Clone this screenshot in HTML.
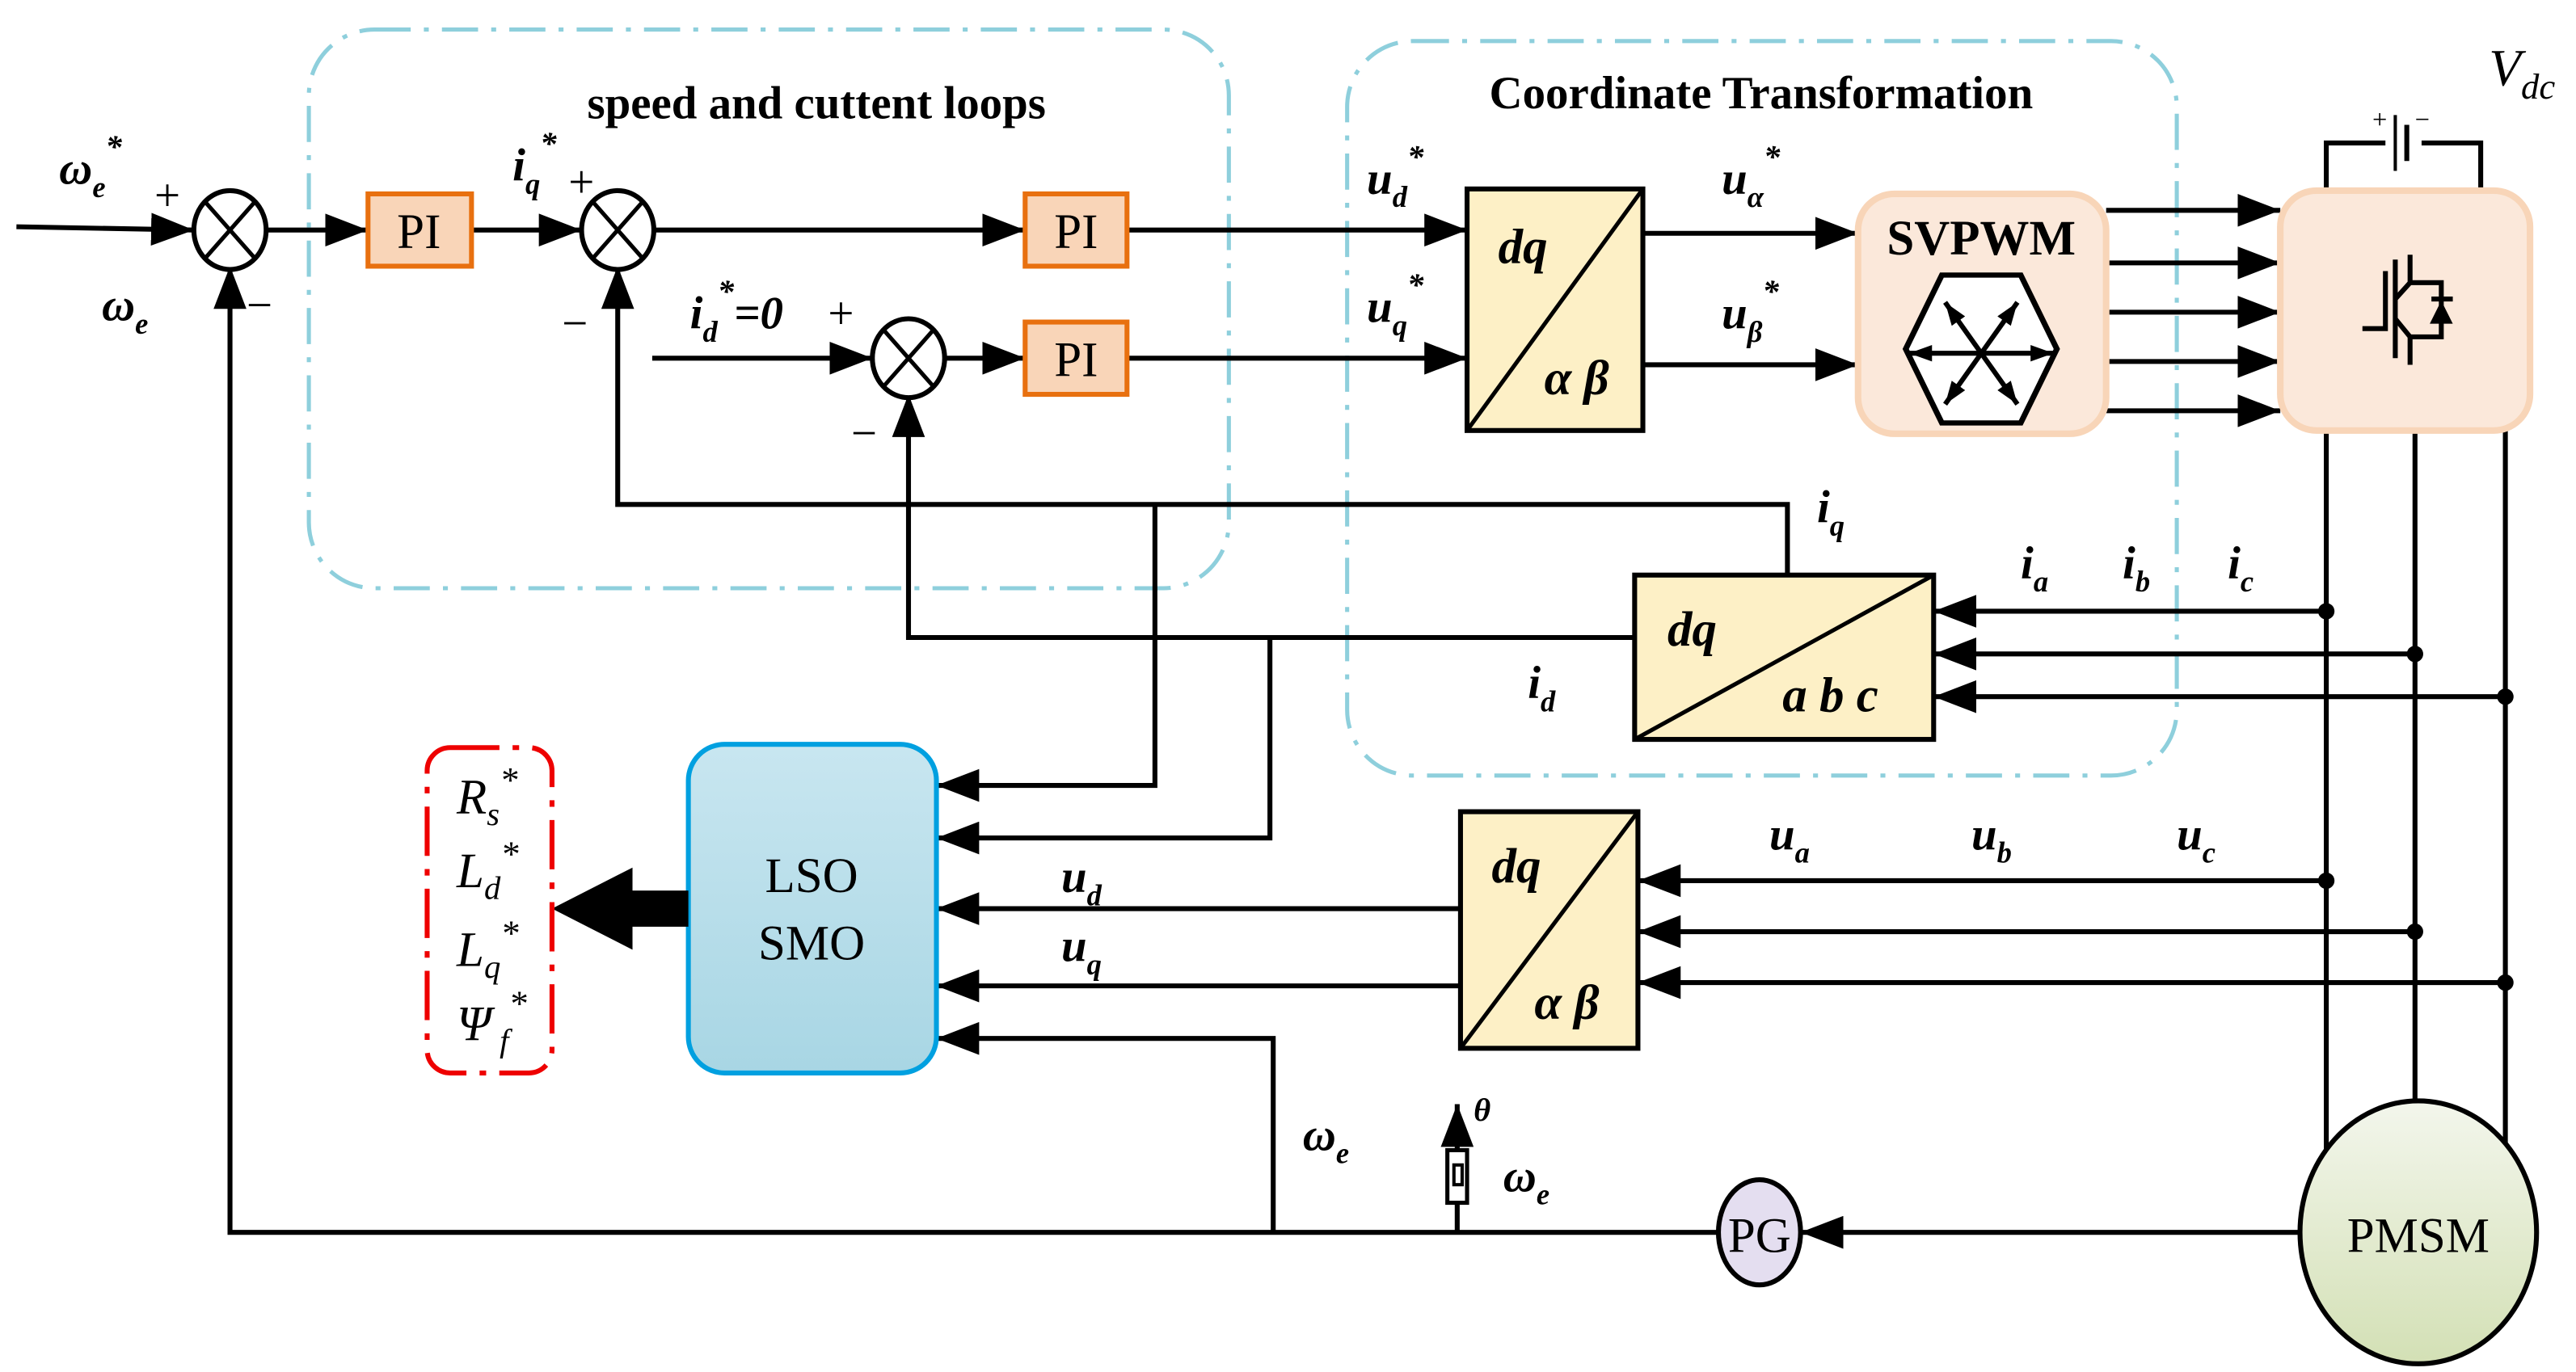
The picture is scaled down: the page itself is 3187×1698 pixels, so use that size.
<!DOCTYPE html>
<html><head><meta charset="utf-8"><style>html,body{margin:0;padding:0;background:#fff}svg{display:block}</style></head>
<body>
<svg width="3187" height="1698" viewBox="0 0 1568 835" preserveAspectRatio="none" xmlns="http://www.w3.org/2000/svg" font-family="Liberation Serif, serif">
<defs>
<marker id="a" viewBox="0 0 10 10" markerWidth="14" markerHeight="10" refX="10" refY="5" orient="auto" markerUnits="userSpaceOnUse" preserveAspectRatio="none"><path d="M0,0 L10,5 L0,10z"/></marker>
<marker id="b" viewBox="0 0 10 10" markerWidth="26" markerHeight="20" refX="10" refY="5" orient="auto" markerUnits="userSpaceOnUse" preserveAspectRatio="none"><path d="M0,0 L10,5 L0,10z"/></marker>
<linearGradient id="lg" x1="0" y1="0" x2="0" y2="1"><stop offset="0" stop-color="#c8e6f0"/><stop offset="1" stop-color="#a8d6e4"/></linearGradient>
<linearGradient id="gg" x1="0" y1="0" x2="0" y2="1"><stop offset="0" stop-color="#f3f6ec"/><stop offset="1" stop-color="#d3e0b5"/></linearGradient>
</defs>
<g fill="none" stroke="#8ecfdc" stroke-width="2.5" stroke-dasharray="22,8,3,8">
<rect x="188" y="18" width="560" height="340" rx="40"/>
<rect x="820" y="25" width="505" height="447" rx="40"/>
</g>
<g stroke="#000" stroke-width="3" fill="none">
<line x1="10" y1="138" x2="118" y2="140" marker-end="url(#b)"/>
<line x1="162" y1="140" x2="224" y2="140" marker-end="url(#b)"/>
<line x1="287" y1="140" x2="354" y2="140" marker-end="url(#b)"/>
<line x1="398" y1="140" x2="624" y2="140" marker-end="url(#b)"/>
<line x1="686" y1="140" x2="893" y2="140" marker-end="url(#b)"/>
<line x1="397" y1="218" x2="531" y2="218" marker-end="url(#b)"/>
<line x1="575" y1="218" x2="624" y2="218" marker-end="url(#b)"/>
<line x1="686" y1="218" x2="893" y2="218" marker-end="url(#b)"/>
<line x1="1000" y1="142" x2="1131" y2="142" marker-end="url(#b)"/>
<line x1="1000" y1="222" x2="1131" y2="222" marker-end="url(#b)"/>
<line x1="1282" y1="128" x2="1388" y2="128" marker-end="url(#b)"/>
<line x1="1282" y1="160" x2="1388" y2="160" marker-end="url(#b)"/>
<line x1="1282" y1="190" x2="1388" y2="190" marker-end="url(#b)"/>
<line x1="1282" y1="220" x2="1388" y2="220" marker-end="url(#b)"/>
<line x1="1282" y1="250" x2="1388" y2="250" marker-end="url(#b)"/>
<polyline points="1416,116 1416,87 1510,87 1510,116"/>
<line x1="1416" y1="262" x2="1416" y2="700"/>
<line x1="1470" y1="262" x2="1470" y2="670"/>
<line x1="1525" y1="262" x2="1525" y2="700"/>
<polyline points="1046,750 140,750 140,162" marker-end="url(#b)"/>
<line x1="1410" y1="750" x2="1096" y2="750" marker-end="url(#b)"/>
<polyline points="1088,350 1088,307 376,307 376,162" marker-end="url(#b)"/>
<polyline points="995,388 553,388 553,240" marker-end="url(#b)"/>
<polyline points="703,307 703,478 570,478" marker-end="url(#b)"/>
<polyline points="773,388 773,510 570,510" marker-end="url(#b)"/>
<line x1="889" y1="553" x2="570" y2="553" marker-end="url(#b)"/>
<line x1="889" y1="600" x2="570" y2="600" marker-end="url(#b)"/>
<polyline points="775,750 775,632 570,632" marker-end="url(#b)"/>
<line x1="1416" y1="372" x2="1177" y2="372" marker-end="url(#b)"/>
<line x1="1470" y1="398" x2="1177" y2="398" marker-end="url(#b)"/>
<line x1="1525" y1="424" x2="1177" y2="424" marker-end="url(#b)"/>
<line x1="1416" y1="536" x2="997" y2="536" marker-end="url(#b)"/>
<line x1="1470" y1="567" x2="997" y2="567" marker-end="url(#b)"/>
<line x1="1525" y1="598" x2="997" y2="598" marker-end="url(#b)"/>
<line x1="887" y1="750" x2="887" y2="672" marker-end="url(#b)"/>
</g>
<g fill="#000">
<circle cx="1416" cy="372" r="5"/><circle cx="1470" cy="398" r="5"/><circle cx="1525" cy="424" r="5"/>
<circle cx="1416" cy="536" r="5"/><circle cx="1470" cy="567" r="5"/><circle cx="1525" cy="598" r="5"/>
</g>
<rect x="1452" y="72" width="22" height="30" fill="#fff"/>
<line x1="1458" y1="70" x2="1458" y2="104" stroke="#000" stroke-width="2"/>
<line x1="1465" y1="76" x2="1465" y2="98" stroke="#000" stroke-width="3"/>
<text x="1444" y="78" font-size="16">+</text><text x="1470" y="78" font-size="16">−</text>
<rect x="881" y="700" width="12" height="32" fill="#fff" stroke="#000" stroke-width="2.5"/>
<rect x="885" y="709" width="5" height="12" fill="#fff" stroke="#000" stroke-width="2"/>
<g stroke="#000" stroke-width="3" fill="#fff">
<ellipse cx="140" cy="140" rx="22" ry="24"/>
<ellipse cx="376" cy="140" rx="22" ry="24"/>
<ellipse cx="553" cy="218" rx="22" ry="24"/>
</g>
<g stroke="#000" stroke-width="2.5">
<path d="M125,123 L155,157 M155,123 L125,157"/>
<path d="M361,123 L391,157 M391,123 L361,157"/>
<path d="M538,201 L568,235 M568,201 L538,235"/>
</g>
<g fill="#f9d5b8" stroke="#e8700f" stroke-width="3">
<rect x="224" y="118" width="63" height="44"/>
<rect x="624" y="118" width="62" height="44"/>
<rect x="624" y="196" width="62" height="44"/>
</g>
<g font-size="30" text-anchor="middle">
<text x="255" y="151">PI</text><text x="655" y="151">PI</text><text x="655" y="229">PI</text>
</g>
<g fill="#fdf0c6" stroke="#000" stroke-width="3">
<rect x="893" y="115" width="107" height="147"/>
<rect x="995" y="350" width="182" height="100"/>
<rect x="889" y="494" width="108" height="144"/>
</g>
<g stroke="#000" stroke-width="2.5">
<line x1="893" y1="262" x2="1000" y2="115"/>
<line x1="995" y1="450" x2="1177" y2="350"/>
<line x1="889" y1="638" x2="997" y2="494"/>
</g>
<g font-style="italic" font-weight="bold" font-size="30">
<text x="912" y="160">dq</text><text x="940" y="240">α β</text>
<text x="1015" y="393">dq</text><text x="1085" y="433">a b c</text>
<text x="908" y="537">dq</text><text x="934" y="620">α β</text>
</g>
<rect x="1131" y="118" width="151" height="146" rx="22" fill="#fbe8da" stroke="#f8d5b8" stroke-width="4"/>
<text x="1206" y="155" font-size="30" font-weight="bold" text-anchor="middle">SVPWM</text>
<g stroke="#000" stroke-width="3.5" fill="#fff">
<polygon points="1182,172 1230,172 1252,222 1230,272 1182,272 1160,222" transform="translate(0,-9) scale(1,0.9) translate(0,24)"/>
</g>
<g stroke="#000" stroke-width="3" marker-end="url(#a)">
<line x1="1206" y1="215" x2="1184" y2="184"/><line x1="1206" y1="215" x2="1228" y2="184"/>
<line x1="1206" y1="215" x2="1162" y2="215"/><line x1="1206" y1="215" x2="1250" y2="215"/>
<line x1="1206" y1="215" x2="1184" y2="246"/><line x1="1206" y1="215" x2="1228" y2="246"/>
</g>
<rect x="1388" y="116" width="152" height="146" rx="22" fill="#fbe8da" stroke="#f8d5b8" stroke-width="4"/>
<g stroke="#000" stroke-width="3" fill="none">
<polyline points="1438,200 1452,200 1452,165"/>
<line x1="1458" y1="158" x2="1458" y2="218"/>
<polyline points="1458,182 1467,172 1467,155"/>
<polyline points="1467,172 1486,172 1486,205 1467,205 1467,222"/>
<line x1="1458" y1="194" x2="1467" y2="205"/>
<line x1="1480" y1="182" x2="1493" y2="182"/>
</g>
<polygon points="1479,197 1493,197 1486,183" fill="#000"/>
<rect x="419" y="453" width="151" height="200" rx="22" fill="url(#lg)" stroke="#00a0e0" stroke-width="3"/>
<text x="494" y="543" font-size="30" text-anchor="middle">LSO</text>
<text x="494" y="584" font-size="30" text-anchor="middle">SMO</text>
<rect x="380" y="542" width="39" height="22" fill="#000"/>
<polygon points="336,553 385,528 385,578" fill="#000"/>
<rect x="260" y="455" width="76" height="198" rx="14" fill="none" stroke="#e00" stroke-width="3" stroke-dasharray="30,8,4,8"/>
<g font-style="italic" font-size="30">
<text x="278" y="495">R<tspan font-size="20" dy="7">s</tspan><tspan font-size="22" dy="-20">*</tspan></text>
<text x="278" y="540">L<tspan font-size="20" dy="7">d</tspan><tspan font-size="22" dy="-20">*</tspan></text>
<text x="278" y="588">L<tspan font-size="20" dy="7">q</tspan><tspan font-size="22" dy="-20">*</tspan></text>
<text x="278" y="633">Ψ<tspan font-size="20" dy="7"> f</tspan><tspan font-size="22" dy="-22">*</tspan></text>
</g>
<ellipse cx="1071" cy="750" rx="25" ry="32" fill="#e4def0" stroke="#000" stroke-width="3"/>
<text x="1071" y="762" font-size="30" text-anchor="middle">PG</text>
<ellipse cx="1472" cy="750" rx="72" ry="80" fill="url(#gg)" stroke="#000" stroke-width="3"/>
<text x="1472" y="762" font-size="30" text-anchor="middle">PMSM</text>
<text x="497" y="72" font-size="28" font-weight="bold" text-anchor="middle">speed and cuttent loops</text>
<text x="1072" y="66" font-size="28" font-weight="bold" text-anchor="middle">Coordinate Transformation</text>
<g font-style="italic" font-weight="bold" font-size="28">
<text x="36" y="112">ω<tspan font-size="18" dy="8">e</tspan><tspan font-size="20" dy="-24">*</tspan></text>
<text x="62" y="195">ω<tspan font-size="18" dy="8">e</tspan></text>
<text x="312" y="110">i<tspan font-size="18" dy="8">q</tspan><tspan font-size="20" dy="-24">*</tspan></text>
<text x="420" y="200">i<tspan font-size="18" dy="8">d</tspan><tspan font-size="20" dy="-24">*</tspan><tspan dy="16">=0</tspan></text>
<text x="832" y="118">u<tspan font-size="18" dy="8">d</tspan><tspan font-size="20" dy="-24">*</tspan></text>
<text x="832" y="196">u<tspan font-size="18" dy="8">q</tspan><tspan font-size="20" dy="-24">*</tspan></text>
<text x="1048" y="118">u<tspan font-size="18" dy="8">α</tspan><tspan font-size="20" dy="-24">*</tspan></text>
<text x="1048" y="200">u<tspan font-size="18" dy="8">β</tspan><tspan font-size="20" dy="-24">*</tspan></text>
<text x="1106" y="318">i<tspan font-size="18" dy="8">q</tspan></text>
<text x="1230" y="352">i<tspan font-size="18" dy="8">a</tspan></text>
<text x="1292" y="352">i<tspan font-size="18" dy="8">b</tspan></text>
<text x="1356" y="352">i<tspan font-size="18" dy="8">c</tspan></text>
<text x="930" y="425">i<tspan font-size="18" dy="8">d</tspan></text>
<text x="1077" y="517">u<tspan font-size="18" dy="8">a</tspan></text>
<text x="1200" y="517">u<tspan font-size="18" dy="8">b</tspan></text>
<text x="1325" y="517">u<tspan font-size="18" dy="8">c</tspan></text>
<text x="646" y="543">u<tspan font-size="18" dy="8">d</tspan></text>
<text x="646" y="585">u<tspan font-size="18" dy="8">q</tspan></text>
<text x="793" y="700">ω<tspan font-size="18" dy="8">e</tspan></text>
<text x="915" y="725">ω<tspan font-size="18" dy="8">e</tspan></text>
<text x="897" y="682" font-size="20">θ</text>
</g>
<text x="1515" y="52" font-size="32" font-style="italic">V<tspan font-size="22" dy="8">dc</tspan></text>
<g font-size="28">
<text x="94" y="128">+</text><text x="150" y="195">−</text>
<text x="346" y="120">+</text><text x="342" y="206">−</text>
<text x="504" y="200">+</text><text x="518" y="273">−</text>
</g>
</svg>
</body></html>
